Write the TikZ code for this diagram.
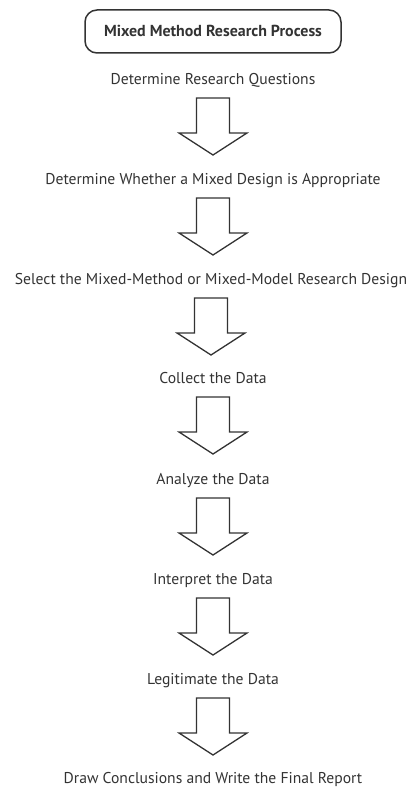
\documentclass[tikz,border=0pt]{standalone}
\usepackage{fontspec}
\setmainfont{PT Sans}
\usetikzlibrary{calc}
\definecolor{ink}{HTML}{333333}
\tikzset{
  lbl/.style={font=\fontsize{15.7}{19}\selectfont, text=ink, anchor=base, inner sep=0pt},
  ttl/.style={font=\fontsize{16}{19}\selectfont\bfseries, text=ink, anchor=base, inner sep=0pt},
  titlebox/.style={draw=ink, line width=1.5bp, rounded corners=12bp},
  barrow/.style={draw=ink, line width=1.3bp, fill=white, line join=miter}
}
\newcommand{\blockarrow}[1]{%
  \draw[barrow] ($(#1.base)+(-16.5,14)$) -- ++(33,0) -- ++(0,35) -- ++(17.5,0)
    -- ($(#1.base)+(0,71)$) -- ($(#1.base)+(-34,49)$) -- ++(17.5,0) -- cycle;}
\begin{document}
\begin{tikzpicture}[x=1bp,y=-1bp]
\useasboundingbox (0,0) rectangle (412,787);
\node[ttl] (title) at (213,37) {Mixed Method Research Process};
\draw[titlebox] (85,10) rectangle (341,53);
\node[lbl] (t1) at (213,84) {Determine Research Questions};
\node[lbl] (t2) at (213,184) {Determine Whether a Mixed Design is Appropriate};
\node[lbl] (t3) at (211,284) {Select the Mixed-Method or Mixed-Model Research Design};
\node[lbl] (t4) at (213,383) {Collect the Data};
\node[lbl] (t5) at (213,484) {Analyze the Data};
\node[lbl] (t6) at (213,584) {Interpret the Data};
\node[lbl] (t7) at (213,684) {Legitimate the Data};
\node[lbl] (t8) at (213,783) {Draw Conclusions and Write the Final Report};
\foreach \i in {1,...,7} {\blockarrow{t\i}}
\end{tikzpicture}
\end{document}
